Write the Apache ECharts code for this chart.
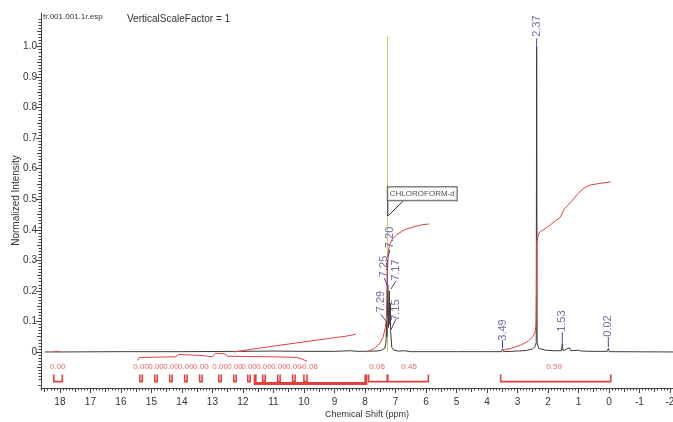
<!DOCTYPE html>
<html>
<head>
<meta charset="utf-8">
<script src="https://cdn.jsdelivr.net/npm/echarts@6/dist/echarts.min.js"></script>
<style>
html, body { margin: 0; padding: 0; background: #fff; }
#chart { width: 673px; height: 422px; }
</style>
</head>
<body>
<div id="chart"></div>
<script>
'use strict'

// tick labels
var xTicks = [18, 17, 16, 15, 14, 13, 12, 11, 10, 9, 8, 7, 6, 5, 4, 3, 2, 1, 0, -1, -2];
var yTicks = [0, 0.1, 0.2, 0.3, 0.4, 0.5, 0.6, 0.7, 0.8, 0.9, 1.0];

// spectrum trace [ppm, normalized intensity]
var spectrum = [
    [18.5, 0], [18.15, 0], [18.1, 0.004], [18.05, 0], [16.0, 0.001], [14.0, 0.001], [12.0, 0.002],
    [11.0, 0.003], [10.0, 0.002], [9.0, 0.002], [8.5, 0.004], [8.2, 0.002], [7.6, 0.003],
    [7.45, 0.006], [7.35, 0.012], [7.31, 0.03], [7.29, 0.10], [7.28, 0.05], [7.265, 0.30],
    [7.255, 0.12], [7.25, 0.22], [7.23, 0.08], [7.20, 0.20], [7.185, 0.09], [7.17, 0.16],
    [7.16, 0.07], [7.15, 0.06], [7.12, 0.015], [7.05, 0.006], [6.9, 0.003], [6.7, 0.004],
    [6.5, 0.001], [5.0, 0.001], [4.0, 0.001], [3.52, 0.001], [3.49, 0.01], [3.46, 0.001],
    [3.0, 0.003], [2.7, 0.005], [2.5, 0.01], [2.42, 0.018], [2.385, 0.03], [2.37, 1.0],
    [2.355, 0.03], [2.3, 0.012], [2.1, 0.006], [1.8, 0.004], [1.56, 0.004], [1.53, 0.025],
    [1.50, 0.004], [1.3, 0.014], [1.25, 0.004], [1.0, 0.006], [0.9, 0.003], [0.5, 0.002],
    [0.05, 0.002], [0.02, 0.012], [-0.01, 0.001], [-2.1, 0]
];

// integral curves
var integral18 = [[18.2, 0.0], [18.1, 0.002], [18.0, 0.002]];
var integralLow = [[12.3, 0.0], [11.5, 0.012], [10.5, 0.026], [9.5, 0.04], [8.6, 0.052], [8.3, 0.058]];
var integralAro = [
    [7.95, 0.0], [7.8, 0.006], [7.65, 0.015], [7.5, 0.03], [7.4, 0.05], [7.33, 0.08], [7.3, 0.11],
    [7.28, 0.17], [7.26, 0.26], [7.24, 0.32], [7.2, 0.35], [7.1, 0.37], [6.95, 0.385],
    [6.7, 0.40], [6.4, 0.41], [6.1, 0.417], [5.9, 0.419]
];
var integralAli = [
    [3.5, 0.005], [3.2, 0.012], [2.9, 0.022], [2.65, 0.035], [2.5, 0.05], [2.42, 0.065],
    [2.39, 0.09], [2.375, 0.2], [2.365, 0.36], [2.3, 0.39], [2.0, 0.41], [1.75, 0.43],
    [1.6, 0.44], [1.53, 0.455], [1.45, 0.47], [1.3, 0.485], [1.2, 0.497], [1.0, 0.52],
    [0.8, 0.538], [0.6, 0.547], [0.3, 0.552], [0.0, 0.556], [-0.05, 0.557]
];
// small connector lines of the empty integrals
var integralLinks = [
    [15.45, -0.028], [15.4, -0.018], [14.2, -0.016], [14.1, -0.008], [13.3, -0.012],
    [13.0, -0.016], [12.9, -0.004], [12.6, -0.006], [12.5, -0.014], [11.0, -0.016],
    [10.2, -0.018], [9.9, -0.03]
];

// integral values and ranges
var intLabelPpm = [18.07, 15.34, 14.85, 14.36, 13.87, 13.38, 12.75, 12.26, 11.8, 11.31, 10.82, 10.33, 9.84, 7.6, 6.55, 1.8];
var intLabelText = ['0.00', '0.00', '0.00', '0.00', '0.00', '0.00', '0.00', '0.00', '0.00', '0.00', '0.00', '0.00', '-0.06', '0.06', '0.45', '0.59'];
var intFrom = [18.2, 15.38, 14.89, 14.40, 13.91, 13.42, 12.79, 12.30, 11.84, 11.35, 10.86, 10.37, 10.0, 7.88, 7.25, 3.55];
var intTo = [17.92, 15.30, 14.81, 14.32, 13.83, 13.34, 12.71, 12.22, 11.76, 11.27, 10.78, 10.29, 9.9, 7.27, 5.92, -0.06];
var wideRange = [11.6, 7.97];

// peak picks
var peakText = ['2.37', '3.49', '1.53', '0.02', '7.20', '7.25', '7.17', '7.29', '7.15'];
var peakLabelPpm = [2.37, 3.49, 1.53, 0.02, 7.18, 7.36, 6.98, 7.48, 6.98];
var peakLabelLevel = [1.067, 0.072, 0.101, 0.085, 0.375, 0.28, 0.268, 0.165, 0.137];
var peakLeaders = [
    [2.37, 1.027, 2.37, 1.0], [3.49, 0.039, 3.49, 0.013], [1.53, 0.065, 1.53, 0.023],
    [0.02, 0.049, 0.02, 0.016], [7.18, 0.334, 7.25, 0.311], [7.36, 0.242, 7.28, 0.219],
    [6.98, 0.232, 7.15, 0.206], [7.48, 0.124, 7.31, 0.101], [6.98, 0.108, 7.15, 0.072]
];

// solvent marker
var solventPpm = 7.26;
var solventTop = 1.035;
var solventText = 'CHLOROFORM-d';
var solventTail = [[7.25, 0.494], [7.25, 0.445], [6.75, 0.494]];

var RED = '#e2403f';
var INK = '#333';
var PEAK = '#4b4b8e';
var FONT = "'Liberation Sans Narrow', 'Liberation Sans', Arial, sans-serif";

var X_MIN = -2.1, X_MAX = 18.62, Y_MIN = -0.118, Y_MAX = 1.11;
var LABEL_LEVEL = -0.049, BRACKET_LEVEL = -0.097, BRACKET_TOP = -0.074;

var xMid = [], xMinor = [], yMid = [], yMinor = [];
for (var i = -20; i <= 186; i++) {
    var v = Math.round(i) / 10;
    if (i % 10 === 0) continue;
    if (i % 5 === 0) xMid.push(v); else xMinor.push(v);
}
for (var j = -11; j <= 110; j++) {
    var w = j / 100;
    if (j % 10 === 0) continue;
    if (j % 5 === 0) yMid.push(w); else yMinor.push(w);
}

function xAxisOf(ticks, len, withLabels) {
    return {
        type: 'value', inverse: true, min: X_MIN, max: X_MAX, position: 'bottom',
        axisLine: { show: withLabels, onZero: false, lineStyle: { color: '#444', width: 1 } },
        axisTick: { show: true, customValues: ticks, length: len, lineStyle: { color: '#444' } },
        axisLabel: withLabels ? { customValues: ticks, color: INK, fontSize: 10, margin: 9, fontFamily: FONT } : { show: false },
        splitLine: { show: false }
    };
}
function yAxisOf(ticks, len, withLabels) {
    return {
        type: 'value', min: Y_MIN, max: Y_MAX, position: 'left',
        axisLine: { show: withLabels, onZero: false, lineStyle: { color: '#444', width: 1 } },
        axisTick: { show: true, customValues: ticks, length: len, lineStyle: { color: '#444' } },
        axisLabel: withLabels ? {
            customValues: ticks, color: INK, fontSize: 10, margin: 4, fontFamily: FONT,
            formatter: function (val) { return val === 1 ? '1.0' : String(val); }
        } : { show: false },
        splitLine: { show: false }
    };
}

var xMain = xAxisOf(xTicks, 5, true);
xMain.name = 'Chemical Shift (ppm)';
xMain.nameLocation = 'middle';
xMain.nameGap = 22;
xMain.nameMoveOverlap = false;
xMain.nameTextStyle = { color: INK, fontSize: 9, fontFamily: FONT, padding: [0, 0, 0, 20] };

var yMain = yAxisOf(yTicks, 5, true);
yMain.name = 'Normalized Intensity';
yMain.nameLocation = 'middle';
yMain.nameGap = 20;
yMain.nameMoveOverlap = false;
yMain.nameTextStyle = { color: INK, fontSize: 10, fontFamily: FONT };

var brackets = [];
for (var k = 0; k < intFrom.length; k++) brackets.push([intFrom[k], intTo[k]]);

var intLabels = [];
for (var m = 0; m < intLabelPpm.length; m++) intLabels.push([intLabelPpm[m], LABEL_LEVEL]);

var peakLabels = [];
for (var n = 0; n < peakText.length; n++) peakLabels.push([peakLabelPpm[n], peakLabelLevel[n]]);

function curve(data, color, width) {
    return {
        type: 'line', data: data, showSymbol: false, symbol: 'none', silent: true,
        lineStyle: { color: color, width: width }, z: 3
    };
}

var myChart = echarts.init(document.getElementById('chart'));
var option = {
    animation: false,
    textStyle: { fontFamily: FONT },
    title: [
        { text: 'fr.001.001.1r.esp', left: 43, top: 13, padding: 0, textStyle: { fontSize: 8, fontWeight: 'normal', color: INK, fontFamily: FONT } },
        { text: 'VerticalScaleFactor = 1', left: 127, top: 14, padding: 0, textStyle: { fontSize: 10, fontWeight: 'normal', color: INK, fontFamily: FONT } }
    ],
    grid: { left: 41, right: 0, top: 13, bottom: 34, containLabel: false, outerBoundsMode: 'none' },
    xAxis: [xMain, xAxisOf(xMid, 4, false), xAxisOf(xMinor, 2.5, false)],
    yAxis: [yMain, yAxisOf(yMid, 4, false), yAxisOf(yMinor, 2.5, false)],
    series: [
        curve([[solventPpm, 0], [solventPpm, solventTop]], '#bcd460', 1),
        curve(spectrum, '#3c3c3c', 1),
        curve(integral18, RED, 1),
        curve(integralLow, RED, 1),
        curve(integralAro, RED, 1),
        curve(integralAli, RED, 1),
        curve(integralLinks, RED, 1),
        curve(solventTail, '#333', 1),
        {
            type: 'custom', data: brackets, silent: true, z: 3,
            renderItem: function (params, api) {
                var a = api.coord([api.value(0), BRACKET_LEVEL]);
                var b = api.coord([api.value(1), BRACKET_LEVEL]);
                var t = api.coord([api.value(0), BRACKET_TOP]);
                return {
                    type: 'polyline',
                    shape: { points: [[a[0], t[1]], a, b, [b[0], t[1]]] },
                    style: { stroke: RED, fill: 'none', lineWidth: 1.6 }
                };
            }
        },
        {
            type: 'custom', data: [wideRange], silent: true, z: 3,
            renderItem: function (params, api) {
                var a = api.coord([api.value(0), BRACKET_LEVEL - 0.006]);
                var b = api.coord([api.value(1), BRACKET_LEVEL - 0.006]);
                var t = api.coord([api.value(0), BRACKET_TOP]);
                return {
                    type: 'polyline',
                    shape: { points: [[a[0], t[1]], a, b, [b[0], t[1]]] },
                    style: { stroke: RED, fill: 'none', lineWidth: 3 }
                };
            }
        },
        {
            type: 'custom', data: peakLeaders, silent: true, z: 4,
            renderItem: function (params, api) {
                var a = api.coord([api.value(0), api.value(1)]);
                var b = api.coord([api.value(2), api.value(3)]);
                return {
                    type: 'line',
                    shape: { x1: a[0], y1: a[1], x2: b[0], y2: b[1] },
                    style: { stroke: PEAK, lineWidth: 1 }
                };
            }
        },
        {
            type: 'scatter', data: intLabels, symbolSize: 0, silent: true, z: 5,
            label: {
                show: true, position: 'inside', color: RED, fontSize: 8, fontFamily: FONT,
                formatter: function (p) { return intLabelText[p.dataIndex]; }
            }
        },
        {
            type: 'scatter', data: peakLabels, symbolSize: 0, silent: true, z: 5,
            label: {
                show: true, position: 'inside', rotate: 90, color: PEAK, fontSize: 11, fontFamily: FONT,
                formatter: function (p) { return peakText[p.dataIndex]; }
            }
        },
        {
            type: 'scatter', data: [[7.25, 0.518]], symbolSize: 0, silent: true, z: 6,
            label: {
                show: true, position: 'right', distance: 0, color: '#222', fontSize: 8, fontFamily: FONT,
                backgroundColor: '#fff', borderColor: '#333', borderWidth: 1, padding: [3, 2, 2, 2],
                formatter: solventText
            }
        }
    ]
};
myChart.setOption(option);
</script>
</body>
</html>
